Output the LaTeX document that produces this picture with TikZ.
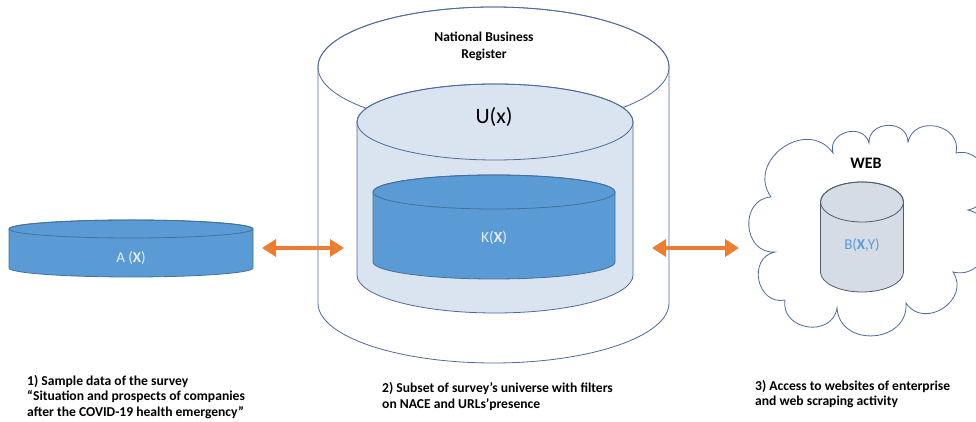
\documentclass[tikz,border=0pt]{standalone}
\usepackage{fontspec}
\setmainfont{Carlito}
\usetikzlibrary{arrows.meta}

\definecolor{edgeblue}{HTML}{4D6A9C}
\definecolor{paleblue}{HTML}{DAE4F1}
\definecolor{midblue}{HTML}{5B9BD5}
\definecolor{darkblue}{HTML}{41719C}
\definecolor{greyblue}{HTML}{D6DCE5}
\definecolor{greyedge}{HTML}{505A68}
\definecolor{arroworange}{HTML}{ED7D31}
\definecolor{lighttext}{HTML}{E4EDF8}

% cylinder: centre x, top y, bottom y, x radius, y radius, fill, edge
\newcommand\drawcyl[7]{%
  \path[fill=#6,draw=#7,line width=0.8pt]
    ({#1-#4},#2) -- ({#1-#4},#3)
    arc[start angle=180,end angle=360,x radius=#4,y radius=#5]
    -- ({#1+#4},#2)
    arc[start angle=0,end angle=180,x radius=#4,y radius=#5] -- cycle;
  \draw[draw=#7,line width=0.8pt] (#1,#2) ellipse[x radius=#4,y radius=#5];
}

\tikzset{
  link/.style={arroworange,line width=4pt,{Triangle[length=14pt,width=17pt]}-{Triangle[length=14pt,width=17pt]}},
  caption/.style={font=\bfseries\fontsize{13.6}{15.5}\selectfont,align=left,anchor=west,inner sep=0pt},
  puff/.style={bend left=90,looseness=1.5},
}

\begin{document}
\begin{tikzpicture}[x=1pt,y=1pt]
\useasboundingbox (0,0) rectangle (976,422);

% sample cylinder
\drawcyl{131}{193}{154}{122}{9}{midblue}{darkblue}
\node[text=lighttext,font=\fontsize{15}{17}\selectfont] (A) at (131,164) {A (\textbf{X})};

% business register with the survey universe and its subset
\drawcyl{493.5}{355}{119}{175.5}{60}{white}{edgeblue}
\node[font=\bfseries\fontsize{13.5}{17}\selectfont,align=center] (nbr) at (484,376) {National Business\\Register};
\drawcyl{495}{300}{147}{138}{38}{paleblue}{edgeblue}
\node[font=\fontsize{22}{24}\selectfont] (U) at (494,305) {U(x)};
\drawcyl{494}{230}{160}{121}{17}{midblue}{darkblue}
\node[text=lighttext,font=\fontsize{15.5}{17}\selectfont] (K) at (494,184) {K(\textbf{X})};

% web cloud, traced puff by puff between its notches
\coordinate (n1) at (771,225);
\coordinate (n2) at (833,269);
\coordinate (n3) at (869,279);
\coordinate (n4) at (908,280);
\coordinate (n5) at (956,269);
\coordinate (n6) at (968,212);
\coordinate (n7) at (953,150);
\coordinate (n8) at (906,119);
\coordinate (n9) at (837,114);
\coordinate (n10) at (785,122);
\coordinate (n11) at (775,170);
\draw[edgeblue,line width=0.8pt,fill=white]
  (n1) to[puff] (n2) to[puff] (n3) to[puff] (n4) to[puff] (n5)
  to[puff] (n6) to[puff] (n7) to[puff] (n8) to[puff] (n9)
  to[puff] (n10) to[puff] (n11) to[puff] (n1) -- cycle;
\node[font=\bfseries\fontsize{16}{18}\selectfont] (webl) at (866,259) {WEB};
\drawcyl{862}{220}{150}{41.5}{20}{greyblue}{greyedge}
\node[text=midblue,font=\fontsize{15}{17}\selectfont] (B) at (862,177) {B(\textbf{X},Y)};

% exchange arrows
\coordinate (l1) at (262,174);
\coordinate (r1) at (344,174);
\coordinate (l2) at (652,174);
\coordinate (r2) at (739,174);
\draw[link] (l1) -- (r1);
\draw[link] (l2) -- (r2);

% captions
\node[caption] (c1) at (27,25) {1) Sample data of the survey\\“Situation and prospects of companies\\after the COVID-19 health emergency”};
\node[caption] (c2) at (382,25.5) {2) Subset of survey’s universe with filters\\on NACE and URLs’presence};
\node[caption] (c3) at (755,28) {3) Access to websites of enterprise\\and web scraping activity};
\end{tikzpicture}
\end{document}
